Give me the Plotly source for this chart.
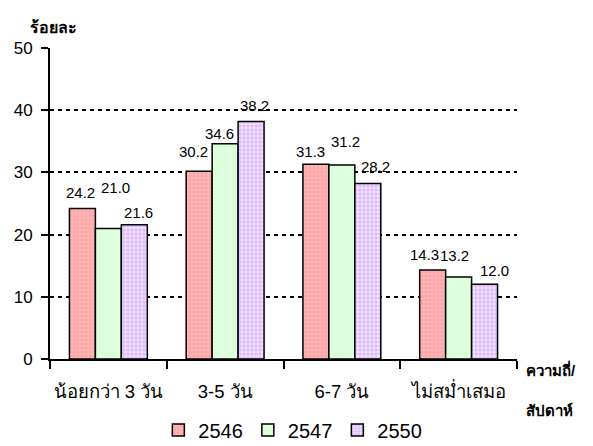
import plotly.graph_objects as go

categories = ["น้อยกว่า 3 วัน", "3-5 วัน", "6-7 วัน", "ไม่สม่ำเสมอ"]
series_names = ["2546", "2547", "2550"]
values_2546 = [24.2, 30.2, 31.3, 14.3]
values_2547 = [21.0, 34.6, 31.2, 13.2]
values_2550 = [21.6, 38.2, 28.2, 12.0]
y_ticks = [0, 10, 20, 30, 40, 50]

# label nudges in pixels (style only), per series, per category
label_dx = [[-2, -6, -5, -8], [7, -6, 4, -4], [4, 3, 8, 10]]
label_dy = [[16, 20, 13, 16], [41, 10, 23, 21], [12, 16, 17, 14]]

FONT = "Liberation Sans, Arial, sans-serif"

styles = [
    dict(bgcolor="#ffa8a8", fgcolor="#ffd0d0", shape=".", size=4, solidity=0.3),
    dict(bgcolor="#dcffdc", fgcolor="#eaffea", shape="x", size=4, solidity=0.2),
    dict(bgcolor="#f4e8ff", fgcolor="#b877ff", shape="+", size=4, solidity=0.45),
]

all_values = [values_2546, values_2547, values_2550]
BAR_PX = 26  # approximate bar width in pixels for label placement

fig = go.Figure()
annotations = []
for si, (name, vals, st) in enumerate(zip(series_names, all_values, styles)):
    fig.add_trace(go.Bar(
        x=categories, y=vals, name=name,
        marker=dict(color=st["bgcolor"],
                    line=dict(color="black", width=1.5),
                    pattern=dict(shape=st["shape"], fgcolor=st["fgcolor"],
                                 bgcolor=st["bgcolor"], size=st["size"],
                                 solidity=st["solidity"], fillmode="overlay")),
    ))
    for ci, (cat, v) in enumerate(zip(categories, vals)):
        annotations.append(dict(
            x=cat, y=v, xref="x", yref="y", text=f"{v:.1f}", showarrow=False,
            xanchor="center", yanchor="middle",
            xshift=(si - 1) * BAR_PX + label_dx[si][ci], yshift=label_dy[si][ci],
            font=dict(size=15, color="black", family=FONT)))

annotations += [
    dict(text="<b>ร้อยละ</b>", xref="paper", yref="paper", x=-0.047, y=1.067,
         xanchor="left", yanchor="middle", showarrow=False, font=dict(size=16)),
    dict(text="<b>ความถี่/</b>", xref="paper", yref="paper", x=1.015, y=-0.035,
         xanchor="left", yanchor="middle", showarrow=False, font=dict(size=15)),
    dict(text="<b>สัปดาห์</b>", xref="paper", yref="paper", x=1.015, y=-0.164,
         xanchor="left", yanchor="middle", showarrow=False, font=dict(size=15)),
]

# page has an 8px body margin, so figure is 585x438 and offset by 8px
fig.update_layout(
    width=585, height=438,
    margin=dict(l=42, r=76, t=40, b=87, autoexpand=False),
    barmode="group", bargap=0.333, bargroupgap=0,
    plot_bgcolor="white", paper_bgcolor="white",
    font=dict(family=FONT, color="black"),
    showlegend=True,
    legend=dict(orientation="h", x=0.52, xanchor="center", y=-0.228, yanchor="middle",
                font=dict(size=20, family=FONT), traceorder="normal",
                itemwidth=30, tracegroupgap=0),
    xaxis=dict(showline=True, linecolor="black", linewidth=2, automargin=False,
               ticks="outside", ticklen=8, tickwidth=1.5, tickcolor="black",
               tickson="boundaries", ticklabelstandoff=15, tickangle=0,
               tickfont=dict(size=18.5, family=FONT)),
    yaxis=dict(range=[0, 50], tickvals=y_ticks, showline=True, linecolor="black",
               linewidth=2, ticks="outside", ticklen=7, tickwidth=1.5, tickcolor="black",
               showgrid=True, gridcolor="black", griddash="4px,4px", gridwidth=2,
               ticklabelstandoff=5,
               automargin=False, tickfont=dict(size=17, family=FONT), zeroline=False),
    annotations=annotations,
)

fig.write_html("out.html")
